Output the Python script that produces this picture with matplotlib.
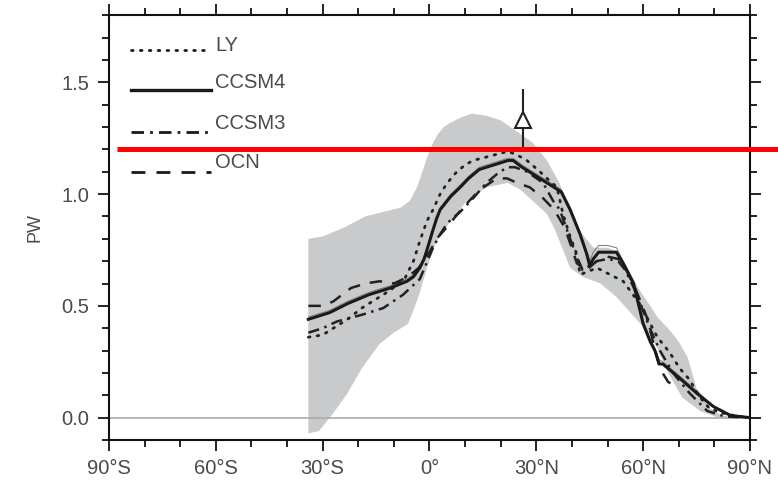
import numpy as np
import matplotlib
matplotlib.use("Agg")
import matplotlib.pyplot as plt
from matplotlib.ticker import MultipleLocator, FixedLocator
import matplotlib.transforms as mtransforms

# ---- data -------------------------------------------------------------
# Envelope of estimates (grey band)
band_upper_lat = [-34, -30, -24, -18, -13, -8, -5.5, -3.5, -2, -0.5, 1, 2.5, 4,
                  6, 8.5, 12, 16, 20, 24.5, 29, 33, 36.5, 40, 43, 46, 50, 53, 56,
                  59, 62, 64, 67.5, 70, 72.5, 75, 79, 82, 86, 90]
band_upper = [0.80, 0.81, 0.85, 0.90, 0.92, 0.94, 0.97, 1.03, 1.10, 1.17, 1.23,
              1.27, 1.30, 1.32, 1.34, 1.36, 1.35, 1.33, 1.28, 1.23, 1.15, 1.05,
              0.90, 0.82, 0.76, 0.76, 0.74, 0.66, 0.57, 0.50, 0.45, 0.39, 0.34,
              0.27, 0.13, 0.04, 0.01, 0.0, 0.0]
band_lower_lat = [-34, -31, -29, -27, -23, -19, -14, -10, -6, -4.5, -2.7, -0.7,
                  2, 6, 10.5, 16, 22, 25.5, 29, 33, 35, 39.5, 43, 48, 52.5, 57,
                  62, 64, 67, 71, 76, 81, 90]
band_lower = [-0.07, -0.06, -0.02, 0.02, 0.11, 0.22, 0.33, 0.38, 0.42, 0.48, 0.56,
              0.67, 0.79, 0.88, 0.97, 1.03, 1.05, 1.02, 0.97, 0.91, 0.85, 0.67,
              0.63, 0.60, 0.54, 0.46, 0.37, 0.31, 0.20, 0.09, 0.03, 0.0, 0.0]

# LY
ly_lat = [-34, -30, -27, -23, -19, -15, -11, -7, -4.5, -2.7, -0.7, 1, 3, 5, 7.7,
          10, 12.2, 17, 21.8, 24, 27.4, 31, 33, 35.8, 37.5, 39.5, 41.4, 42.3, 44,
          47, 50.7, 54.4, 59, 62, 64, 67.5, 70.3, 73, 76, 78.7, 82.4, 87, 90]
ly = [0.36, 0.37, 0.40, 0.44, 0.49, 0.53, 0.57, 0.62, 0.70, 0.79, 0.88, 0.93, 1.00,
      1.05, 1.10, 1.13, 1.15, 1.17, 1.19, 1.18, 1.15, 1.10, 1.07, 1.03, 0.91, 0.81,
      0.73, 0.64, 0.65, 0.67, 0.64, 0.61, 0.51, 0.42, 0.36, 0.29, 0.22, 0.17, 0.09,
      0.04, 0.02, 0.005, 0.0]

# CCSM4 ensemble mean and one member
ccsm4_lat = [-34, -28, -23, -17, -11, -6.3, -4.5, -2.7, -1.5, -0.7, 1, 2, 3, 4.5,
             6, 8.6, 11, 14, 18, 22, 23.5, 26, 29, 32, 35, 37, 39.5, 42.3, 44.2,
             45, 46, 47.5, 50, 52.5, 54.4, 57.3, 60, 62, 63.3, 64.5, 65.5, 70, 75,
             79.7, 84.5, 90]
ccsm4 = [0.44, 0.47, 0.51, 0.55, 0.58, 0.61, 0.63, 0.67, 0.71, 0.75, 0.84, 0.89,
         0.93, 0.96, 0.99, 1.03, 1.07, 1.11, 1.13, 1.15, 1.15, 1.12, 1.09, 1.06,
         1.03, 1.01, 0.93, 0.82, 0.73, 0.68, 0.71, 0.74, 0.74, 0.74, 0.69, 0.60,
         0.42, 0.34, 0.30, 0.24, 0.24, 0.18, 0.11, 0.05, 0.01, 0.0]
ccsm4_member = [0.45, 0.48, 0.52, 0.56, 0.59, 0.62, 0.64, 0.68, 0.72, 0.76, 0.85,
                0.90, 0.94, 0.97, 1.00, 1.04, 1.08, 1.12, 1.14, 1.16, 1.16, 1.13,
                1.10, 1.07, 1.04, 1.02, 0.94, 0.83, 0.74, 0.70, 0.74, 0.77, 0.77,
                0.76, 0.70, 0.61, 0.43, 0.35, 0.31, 0.26, 0.25, 0.19, 0.12, 0.05,
                0.01, 0.0]

# CCSM3
ccsm3_lat = [-34, -30, -26, -19, -13, -7.4, -2.7, 1, 3, 5, 8.6, 12.2, 16, 19, 21.8,
             24, 27.4, 31.9, 34.7, 36.6, 38.6, 40.4, 41.4, 43, 45, 47, 50, 53, 55,
             58, 61.9, 64.7, 68.4, 73, 78, 83, 90]
ccsm3 = [0.38, 0.40, 0.43, 0.46, 0.49, 0.55, 0.62, 0.76, 0.82, 0.87, 0.92, 0.98,
         1.05, 1.09, 1.12, 1.12, 1.10, 1.05, 0.97, 0.93, 0.84, 0.76, 0.72, 0.66,
         0.68, 0.70, 0.71, 0.70, 0.66, 0.56, 0.40, 0.30, 0.20, 0.11, 0.03, 0.005, 0.0]

# OCN
ocn_lat = [-34, -30, -27, -22, -18, -14, -10, -6, -3, 0, 2, 4.8, 9.4, 14.2, 18.9,
           21.8, 24.6, 28.2, 32, 35, 38, 39.5, 41.4, 44, 47, 50, 53, 55, 58, 61,
           64.7, 67, 70]
ocn = [0.50, 0.50, 0.52, 0.58, 0.60, 0.61, 0.60, 0.63, 0.67, 0.74, 0.80, 0.85, 0.94,
       1.02, 1.07, 1.07, 1.05, 1.03, 0.98, 0.93, 0.85, 0.78, 0.69, 0.66, 0.70, 0.72,
       0.71, 0.67, 0.57, 0.45, 0.22, 0.16, 0.13]

# Direct estimate with uncertainty
obs_lat = 26.3
obs_val = 1.33
obs_err = 0.14

ref_level = 1.2

xticks = [-90, -60, -30, 0, 30, 60, 90]
xticklabels = ["90°S", "60°S", "30°S", "0°", "30°N", "60°N", "90°N"]
yticks = [0.0, 0.5, 1.0, 1.5]
yticklabels = ["0.0", "0.5", "1.0", "1.5"]
legend_names = ["LY", "CCSM4", "CCSM3", "OCN"]

# ---- figure -----------------------------------------------------------
plt.rcParams["font.family"] = ["Liberation Sans", "DejaVu Sans"]
text_color = "#4a4a4a"

fig = plt.figure(figsize=(7.78, 4.90), dpi=100)
ax = fig.add_axes([0.140, 0.102, 0.824, 0.867])

band_x = np.concatenate([band_upper_lat, band_lower_lat[::-1]])
band_y = np.concatenate([band_upper, band_lower[::-1]])
ax.fill(band_x, band_y, color="#c9cacc", lw=0, zorder=1)

ax.axhline(0.0, color="#aaaaaa", lw=1.2, zorder=1.5)

ax.plot(ccsm4_lat, ccsm4_member, color="#777777", lw=0.7, zorder=3)
ax.plot(ly_lat, ly, color="#222222", lw=2.0, linestyle=(0, (0.6, 2.6)),
        dash_capstyle="round", zorder=4)
ax.plot(ccsm3_lat, ccsm3, color="#222222", lw=1.8,
        linestyle=(0, (4.5, 2.2, 1.0, 2.2)), zorder=4)
ax.plot(ocn_lat, ocn, color="#222222", lw=1.8, linestyle=(0, (5, 4)), zorder=4)
ax.plot(ccsm4_lat, ccsm4, color="#1a1a1a", lw=2.2, zorder=5)

ax.errorbar([obs_lat], [obs_val], yerr=[obs_err], fmt="^", color="#222222",
            mfc="white", mec="#222222", ms=12, mew=1.5, elinewidth=1.5,
            capsize=0, zorder=6)

# Reference level, running across the plot to the right edge
trans = mtransforms.blended_transform_factory(ax.transAxes, ax.transData)
ax.plot([0.0125, 1.06], [ref_level, ref_level], color="#ff0000", lw=3.6,
        transform=trans, clip_on=False, zorder=10, solid_capstyle="butt")

# Legend drawn by hand
leg_y_line = [0.918, 0.824, 0.725, 0.631]
leg_y_text = [0.929, 0.842, 0.744, 0.654]
leg_styles = [dict(lw=2.0, linestyle=(0, (0.6, 2.6)), dash_capstyle="round"),
              dict(lw=2.4, linestyle="-"),
              dict(lw=2.0, linestyle=(0, (4.5, 2.2, 1.0, 2.2))),
              dict(lw=2.0, linestyle=(0, (5, 4)))]
for name, yl, yt, st in zip(legend_names, leg_y_line, leg_y_text, leg_styles):
    ax.plot([0.034, 0.160], [yl, yl], color="#1a1a1a", transform=ax.transAxes,
            **st)
    ax.text(0.166, yt, name, transform=ax.transAxes, fontsize=14.5,
            color=text_color, va="center", ha="left")

ax.set_xlim(-90, 90)
ax.set_ylim(-0.1, 1.8)
ax.xaxis.set_major_locator(FixedLocator(xticks))
ax.set_xticklabels(xticklabels)
ax.xaxis.set_minor_locator(MultipleLocator(10))
ax.yaxis.set_major_locator(FixedLocator(yticks))
ax.set_yticklabels(yticklabels)
ax.yaxis.set_minor_locator(MultipleLocator(0.1))

ax.tick_params(which="both", direction="out", top=True, right=True,
               colors="#111111", labelcolor=text_color, width=1.3)
ax.tick_params(which="major", length=8, labelsize=14.5, pad=6)
ax.tick_params(which="minor", length=5)
for s in ax.spines.values():
    s.set_linewidth(1.5)
    s.set_color("#111111")

ax.set_ylabel("PW", fontsize=13, color=text_color, labelpad=13)

fig.savefig("out.png", dpi=100)
